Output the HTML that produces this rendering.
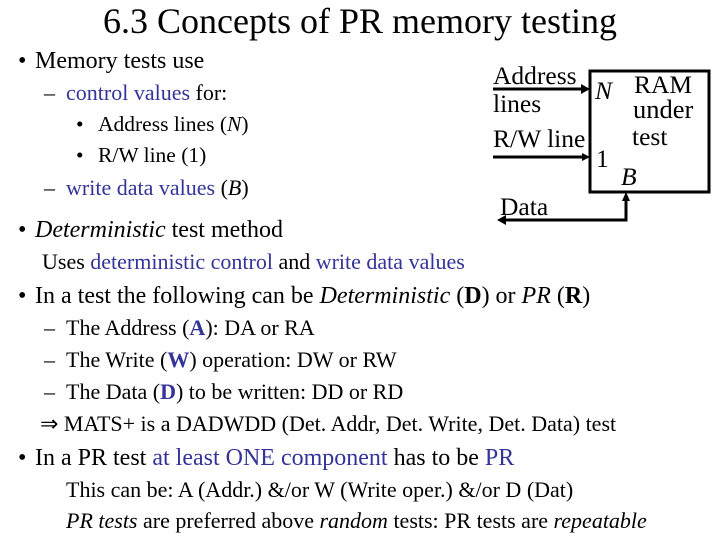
<!DOCTYPE html>
<html><head><style>
body{margin:0;width:720px;height:540px;background:#fff;position:relative;overflow:hidden;font-family:"Liberation Serif",serif;color:#000}
.t{position:absolute;white-space:nowrap;line-height:1}
.b{color:#333399}
.s21{font-size:24px}.s19{font-size:22px}.s18{font-size:21.5px}.s22{font-size:25.5px}
</style></head><body>
<div class="t" style="left:0;width:720px;text-align:center;top:3px;font-size:36px">6.3 Concepts of PR memory testing</div>

<div class="t s21" style="left:18px;top:49px">•</div><div class="t s21" style="left:35px;top:49px">Memory tests use</div>
<div class="t s19" style="left:44px;top:82px">–</div><div class="t s19" style="left:66px;top:82px"><span class="b">control values</span> for:</div>
<div class="t s18" style="left:76px;top:114px">•</div><div class="t s18" style="left:98px;top:114px">Address lines (<i>N</i>)</div>
<div class="t s18" style="left:76px;top:145px">•</div><div class="t s18" style="left:98px;top:145px">R/W line (1)</div>
<div class="t s19" style="left:44px;top:177px">–</div><div class="t s19" style="left:66px;top:177px"><span class="b">write data values</span> (<i>B</i>)</div>

<div class="t s21" style="left:18px;top:218px">•</div><div class="t s21" style="left:35px;top:218px"><i>Deterministic</i> test method</div>
<div class="t s19" style="left:42px;top:251px">Uses <span class="b">deterministic control</span> and <span class="b">write data values</span></div>
<div class="t s21" style="left:18px;top:284px">•</div><div class="t s21" style="left:35px;top:284px">In a test the following can be <i>Deterministic</i> (<b>D</b>) or <i>PR</i> (<b>R</b>)</div>
<div class="t s19" style="left:44px;top:317px">–</div><div class="t s19" style="left:66px;top:317px">The Address (<b class="b">A</b>): DA or RA</div>
<div class="t s19" style="left:44px;top:349px">–</div><div class="t s19" style="left:66px;top:349px">The Write (<b class="b">W</b>) operation: DW or RW</div>
<div class="t s19" style="left:44px;top:381px">–</div><div class="t s19" style="left:66px;top:381px">The Data (<b class="b">D</b>) to be written: DD or RD</div>
<div class="t s19" style="left:40px;top:413px">⇒ MATS+ is a DADWDD (Det. Addr, Det. Write, Det. Data) test</div>
<div class="t s21" style="left:18px;top:446px">•</div><div class="t s21" style="left:35px;top:446px">In a PR test <span class="b">at least ONE component</span> has to be <span class="b">PR</span></div>
<div class="t s19" style="left:66px;top:479px">This can be: A (Addr.) &amp;/or W (Write oper.) &amp;/or D (Dat)</div>
<div class="t s19" style="left:66px;top:510px"><i>PR tests</i> are preferred above <i>random</i> tests: PR tests are <i>repeatable</i></div>

<svg style="position:absolute;left:0;top:0" width="720" height="540">
<rect x="590" y="71" width="119" height="121" fill="none" stroke="#000" stroke-width="3"/>
<line x1="493" y1="89" x2="582" y2="89" stroke="#000" stroke-width="3"/>
<polygon points="590,89 581,84 581,94" fill="#000"/>
<line x1="493" y1="157" x2="583" y2="157" stroke="#000" stroke-width="3"/>
<polygon points="590,157 582,153 582,161" fill="#000"/>
<polyline points="626,200 626,220 504,220" fill="none" stroke="#000" stroke-width="3"/>
<polygon points="626,192 622,201 630,201" fill="#000"/>
<polygon points="497,220 506,215 506,225" fill="#000"/>
</svg>
<div class="t s22" style="left:493px;top:63px">Address</div>
<div class="t s22" style="left:493px;top:91px">lines</div>
<div class="t s22" style="left:493px;top:126px">R/W line</div>
<div class="t s22" style="left:595px;top:78px"><i>N</i></div>
<div class="t s22" style="left:634px;top:72px">RAM</div>
<div class="t s22" style="left:633px;top:96px;font-size:26.5px">under</div>
<div class="t s22" style="left:632px;top:124px">test</div>
<div class="t s22" style="left:596px;top:146px">1</div>
<div class="t s22" style="left:621px;top:164px"><i>B</i></div>
<div class="t s22" style="left:500px;top:194px">Data</div>
</body></html>
